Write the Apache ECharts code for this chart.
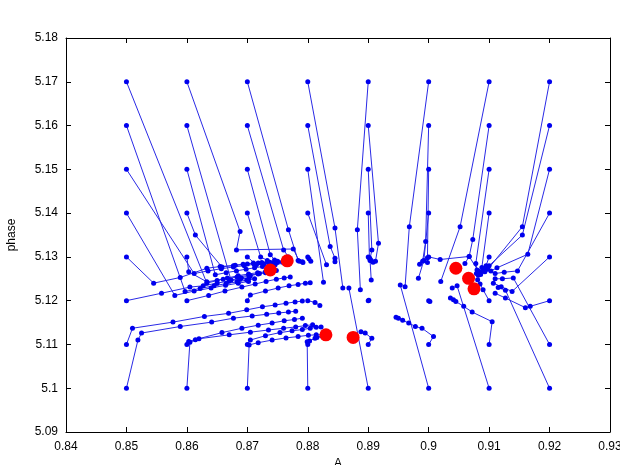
<!DOCTYPE html>
<html>
<head>
<meta charset="utf-8">
<script src="https://cdn.jsdelivr.net/npm/echarts@6/dist/echarts.min.js"></script>
<style>html,body{margin:0;padding:0;background:#fff;width:100%;height:100%;overflow:hidden;}#c{position:absolute;left:0;top:0;width:620px;height:465px;}</style>
</head>
<body><div id="c"></div><script>
// Trajectories, grouped by starting column A, each list ordered by start phase 5.17 -> 5.10
const col085 = [
 [[0.85,5.17],[0.8633,5.1240],[0.8650,5.1246],[0.8667,5.1252],[0.8685,5.1257],[0.8702,5.1261],[0.8717,5.1264],[0.8730,5.1266],[0.8741,5.1268]],
 [[0.85,5.16],[0.8597,5.1221],[0.8622,5.1228],[0.8645,5.1234],[0.8665,5.1239],[0.8683,5.1243],[0.8699,5.1247],[0.8712,5.1250]],
 [[0.85,5.15],[0.8612,5.1262],[0.8635,5.1268],[0.8657,5.1273],[0.8677,5.1277],[0.8695,5.1280],[0.8711,5.1283],[0.8725,5.1285]],
 [[0.85,5.14],[0.8580,5.1212],[0.8612,5.1222],[0.8640,5.1229],[0.8664,5.1235],[0.8685,5.1240],[0.8702,5.1244]],
 [[0.85,5.13],[0.8545,5.1240],[0.8589,5.1253],[0.8633,5.1274],[0.8655,5.1278],[0.8677,5.1280],[0.8693,5.1283],[0.8710,5.1286],[0.8724,5.1287],[0.8737,5.1288],[0.8748,5.1289]],
 [[0.85,5.12],[0.8558,5.1217],[0.8605,5.1231],[0.8627,5.1234],[0.8650,5.1240],[0.8670,5.1245],[0.8688,5.1249],[0.8703,5.1252]],
 [[0.85,5.11],[0.8510,5.1137],[0.8577,5.1151],[0.8629,5.1164],[0.8669,5.1171],[0.8699,5.1179],[0.8725,5.1186],[0.8746,5.1190],[0.8764,5.1194],[0.8779,5.1197],[0.8791,5.1199]],
 [[0.85,5.10],[0.8519,5.1110],[0.8525,5.1126],[0.8589,5.1141],[0.8641,5.1151],[0.8677,5.1160],[0.8708,5.1165],[0.8732,5.1169],[0.8752,5.1172],[0.8768,5.1174],[0.8780,5.1176]]
];
const col086 = [
 [[0.86,5.17],[0.8688,5.1358],[0.8682,5.1316],[0.8776,5.1318],[0.8786,5.1290],[0.8792,5.1287]],
 [[0.86,5.16],[0.8673,5.1247],[0.8690,5.1252],[0.8705,5.1257],[0.8718,5.1261],[0.8730,5.1264],[0.8740,5.1267],[0.8748,5.1269]],
 [[0.86,5.15],[0.8647,5.1259],[0.8665,5.1264],[0.8682,5.1268],[0.8698,5.1272],[0.8712,5.1275],[0.8725,5.1278],[0.8736,5.1280],[0.8746,5.1282]],
 [[0.86,5.14],[0.8614,5.1350],[0.8658,5.1277],[0.8680,5.1281],[0.8700,5.1284],[0.8718,5.1286],[0.8735,5.1288],[0.8750,5.1290],[0.8760,5.1291]],
 [[0.86,5.13],[0.8603,5.1266],[0.8633,5.1243],[0.8660,5.1249],[0.8683,5.1254],[0.8703,5.1258],[0.8720,5.1262],[0.8734,5.1265]],
 [[0.86,5.12],[0.8636,5.1212],[0.8663,5.1222],[0.8691,5.1231],[0.8713,5.1238],[0.8731,5.1244],[0.8748,5.1249],[0.8761,5.1252],[0.8771,5.1254]],
 [[0.86,5.11],[0.8603,5.1107],[0.8614,5.1111],[0.8658,5.1127],[0.8691,5.1137],[0.8718,5.1144],[0.8741,5.1149],[0.8761,5.1154],[0.8778,5.1157],[0.8791,5.1160]],
 [[0.86,5.10],[0.8605,5.1105],[0.8620,5.1113],[0.8670,5.1122],[0.8705,5.1128],[0.8735,5.1133],[0.8760,5.1137],[0.8780,5.1140],[0.8796,5.1143],[0.8808,5.1145]]
];
const col087 = [
 [[0.87,5.17],[0.8768,5.1362],[0.8784,5.1292],[0.8791,5.1289]],
 [[0.87,5.16],[0.8760,5.1316],[0.8768,5.1300]],
 [[0.87,5.15],[0.8738,5.1305],[0.8745,5.1293]],
 [[0.87,5.14],[0.8722,5.1300],[0.8733,5.1292]],
 [[0.87,5.13],[0.8715,5.1282],[0.8728,5.1284],[0.8740,5.1286],[0.8750,5.1287],[0.8758,5.1288]],
 [[0.87,5.12],[0.8705,5.1213],[0.8730,5.1222],[0.8751,5.1229],[0.8769,5.1234],[0.8784,5.1237],[0.8796,5.1240],[0.8804,5.1241]],
 [[0.87,5.11],[0.8705,5.1110],[0.8730,5.1120],[0.8754,5.1127],[0.8774,5.1131],[0.8791,5.1134],[0.8804,5.1137],[0.8814,5.1139],[0.8822,5.1140]],
 [[0.87,5.10],[0.8703,5.1099],[0.8718,5.1104],[0.8741,5.1110],[0.8764,5.1115],[0.8784,5.1118],[0.8801,5.1121],[0.8814,5.1122],[0.8824,5.1122]]
];
const col088 = [
 [[0.88,5.17],[0.8845,5.1366],[0.8858,5.1229]],
 [[0.88,5.16],[0.8837,5.1324],[0.8845,5.1297],[0.8845,5.1289]],
 [[0.88,5.15],[0.8826,5.1242]],
 [[0.88,5.14],[0.8831,5.1282]],
 [[0.88,5.13],[0.8802,5.1296],[0.8805,5.1290]],
 [[0.88,5.12],[0.8812,5.1196],[0.8820,5.1189]],
 [[0.88,5.11],[0.8803,5.1108],[0.8815,5.1116],[0.8826,5.1120]],
 [[0.88,5.10],[0.8799,5.1106],[0.8812,5.1114],[0.8824,5.1119]]
];
const col089 = [
 [[0.89,5.17],[0.8882,5.1362],[0.8887,5.1225]],
 [[0.89,5.16],[0.8917,5.1331],[0.8912,5.1290]],
 [[0.89,5.15],[0.8906,5.1316],[0.8903,5.1295],[0.8908,5.1288]],
 [[0.89,5.14],[0.8902,5.1298],[0.8905,5.1292]],
 [[0.89,5.13],[0.8903,5.1292],[0.8905,5.1247]],
 [[0.89,5.12],[0.8901,5.1201]],
 [[0.89,5.11],[0.8906,5.1114],[0.8895,5.1126],[0.8888,5.1129]],
 [[0.89,5.10],[0.8868,5.1229]]
];
const col090 = [
 [[0.90,5.17],[0.8968,5.1369],[0.8961,5.1232]],
 [[0.90,5.16],[0.8995,5.1335],[0.8990,5.1290],[0.8985,5.1283]],
 [[0.90,5.15],[0.8998,5.1298],[0.8998,5.1287]],
 [[0.90,5.14],[0.8992,5.1292],[0.8983,5.1251]],
 [[0.90,5.13],[0.9019,5.1294],[0.9067,5.1301],[0.9082,5.1268]],
 [[0.90,5.12],[0.9002,5.1198]],
 [[0.90,5.11],[0.9008,5.1118],[0.8989,5.1137],[0.8978,5.1141],[0.8967,5.1149],[0.8957,5.1155],[0.8950,5.1160],[0.8946,5.1162]],
 [[0.90,5.10],[0.8953,5.1236]]
];
const col091 = [
 [[0.91,5.17],[0.9052,5.1369],[0.9020,5.1244]],
 [[0.91,5.16],[0.9073,5.1340],[0.9067,5.1301],[0.9060,5.1285]],
 [[0.91,5.15],[0.9078,5.1285],[0.9080,5.1270],[0.9079,5.1262]],
 [[0.91,5.14],[0.9088,5.1276],[0.9085,5.1265],[0.9082,5.1258]],
 [[0.91,5.13],[0.9095,5.1280],[0.9090,5.1268],[0.9086,5.1260]],
 [[0.91,5.12],[0.9090,5.1225],[0.9085,5.1238],[0.9081,5.1248]],
 [[0.91,5.11],[0.9105,5.1152],[0.9072,5.1174],[0.9058,5.1187],[0.9045,5.1198],[0.9041,5.1202],[0.9036,5.1206]],
 [[0.91,5.10],[0.9047,5.1234],[0.9039,5.1229]]
];
const col092 = [
 [[0.92,5.17],[0.9155,5.1369],[0.9098,5.1272],[0.9093,5.1266]],
 [[0.92,5.16],[0.9155,5.1350],[0.9100,5.1280],[0.9094,5.1272]],
 [[0.92,5.15],[0.9164,5.1306],[0.9113,5.1275],[0.9103,5.1268]],
 [[0.92,5.14],[0.9147,5.1268],[0.9125,5.1265],[0.9110,5.1262]],
 [[0.92,5.13],[0.9138,5.1221],[0.9120,5.1232],[0.9107,5.1240]],
 [[0.92,5.12],[0.9168,5.1187],[0.9160,5.1184],[0.9127,5.1206],[0.9110,5.1217]],
 [[0.92,5.11],[0.9140,5.1252],[0.9122,5.1250],[0.9110,5.1250]],
 [[0.92,5.10],[0.9127,5.1224],[0.9115,5.1230]]
];
// fixed points (red)
const fixedPoints = [[0.8738,5.1270],[0.8766,5.1291],[0.8830,5.1122],[0.8875,5.1116],[0.9045,5.1274],[0.9066,5.1251],[0.9075,5.1227]];

const xMin = 0.84, xMax = 0.93, xStep = 0.01;
const yMin = 5.09, yMax = 5.18, yStep = 0.01;

const fmt = v => String(+v.toFixed(2));
const FONT = 'Liberation Sans';
const BLUE = '#0000ee';

const allTraj = [].concat(col085, col086, col087, col088, col089, col090, col091, col092);
const series = allTraj.map(t => ({
  type: 'line', data: t, xAxisIndex: 0, yAxisIndex: 0,
  showSymbol: true, symbol: 'circle', symbolSize: 5,
  itemStyle: { color: BLUE, opacity: 1 }, lineStyle: { color: '#2a2ae6', width: 1 },
  emphasis: { disabled: true }, animation: false, z: 2
}));
series.push({
  type: 'scatter', data: fixedPoints, symbolSize: 13,
  itemStyle: { color: '#ff0000', opacity: 1 }, z: 5, animation: false,
  emphasis: { disabled: true }
});

function axisCommon(extra) {
  return Object.assign({
    type: 'value', splitLine: { show: false },
    axisLine: { show: true, onZero: false, lineStyle: { color: '#000', width: 1 } },
    axisTick: { show: true, inside: true, length: 5, lineStyle: { color: '#000' } }
  }, extra);
}

const el = document.getElementById('c');
const chart = echarts.init(el, null, { renderer: 'canvas', width: 620, height: 465 });
chart.setOption({
  backgroundColor: '#fff',
  animation: false,
  grid: { left: 66, right: 10, top: 38, bottom: 33, containLabel: false, outerBoundsMode: 'none' },
  xAxis: [
    axisCommon({ position: 'bottom', min: xMin, max: xMax, interval: xStep,
      axisLabel: { formatter: fmt, color: '#000', fontSize: 12, fontFamily: FONT, margin: 9, hideOverlap: false },
      name: 'A', nameLocation: 'middle', nameGap: 25,
      nameTextStyle: { color: '#000', fontSize: 12, fontFamily: FONT } }),
    axisCommon({ position: 'top', min: xMin, max: xMax, interval: xStep, axisLabel: { show: false } })
  ],
  yAxis: [
    axisCommon({ position: 'left', min: yMin, max: yMax, interval: yStep,
      axisLabel: { formatter: fmt, color: '#000', fontSize: 12, fontFamily: FONT, margin: 8 },
      name: 'phase', nameLocation: 'middle', nameGap: 48, nameRotate: 90,
      nameTextStyle: { color: '#000', fontSize: 12, fontFamily: FONT } }),
    axisCommon({ position: 'right', min: yMin, max: yMax, interval: yStep, axisLabel: { show: false } })
  ],
  series: series
});
</script></body>
</html>
